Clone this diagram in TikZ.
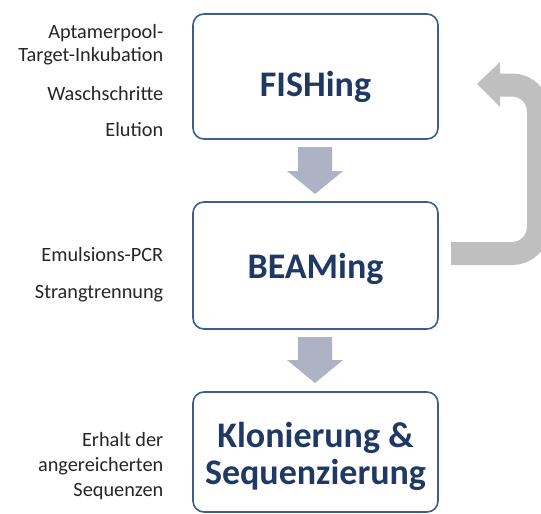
\documentclass[tikz,border=0pt]{standalone}
\usepackage{fontspec}
\setmainfont{Carlito}
\definecolor{boxline}{RGB}{58,95,143}
\definecolor{titlecol}{RGB}{31,56,100}
\definecolor{downarr}{RGB}{173,179,196}
\definecolor{backarr}{RGB}{191,191,191}
\definecolor{sidetext}{RGB}{38,38,38}
\tikzset{
  stepbox/.style={draw=boxline, line width=1.6pt, rounded corners=11pt, fill=white},
  title/.style={font=\fontsize{36}{38}\selectfont\bfseries, text=titlecol, anchor=base, inner sep=0pt},
  side/.style={font=\fontsize{20.3}{24}\selectfont, text=sidetext, anchor=base east, inner sep=0pt},
  downarrow/.style={fill=downarr, draw=none},
}
\begin{document}
\begin{tikzpicture}[x=1pt,y=-1pt]
\useasboundingbox (0,0) rectangle (541,514);
\clip (0,0) rectangle (541,514);
% boxes
\draw[stepbox] (193,14) rectangle (438,139);
\draw[stepbox] (193,202) rectangle (438,329);
\draw[stepbox] (193,392) rectangle (438,512);
\coordinate (fb) at (315.5,139);
\coordinate (bt) at (315.5,202);
\coordinate (bb) at (315.5,329);
\coordinate (kt) at (315.5,392);
% titles
\node[title] (fish) at (315.5,96) {FISHing};
\node[title] (beam) at (315.5,278) {BEAMing};
\node[title] (klon1) at (315.5,447) {Klonierung \&};
\node[title] (klon2) at (315.5,484) {Sequenzierung};
% down arrows
\fill[downarrow] (298,147) -- (332,147) -- (332,171) -- (343,171) -- (315,194) -- (287,171) -- (298,171) -- cycle;
\fill[downarrow] (298,337) -- (332,337) -- (332,360) -- (343,360) -- (315,383) -- (287,360) -- (298,360) -- cycle;
% return arrow
\coordinate (rs) at (451,253.5);
\coordinate (rc1) at (538.5,253.5);
\coordinate (rc2) at (538.5,85);
\coordinate (re) at (499.5,85);
\draw[backarr, line width=23pt, rounded corners=26.5pt] (rs) -- (rc1) -- (rc2) -- (re);
\fill[backarr] (500,62) -- (477,84) -- (500,107) -- cycle;
% side texts
\node[side] (t1) at (163.5,38.3) {Aptamerpool-};
\node[side] (t2) at (163.5,61.7) {Target-Inkubation};
\node[side] (t3) at (163.5,100) {Waschschritte};
\node[side] (t4) at (163.5,136.7) {Elution};
\node[side] (t5) at (163.5,261.7) {Emulsions-PCR};
\node[side] (t6) at (163.5,298) {Strangtrennung};
\node[side] (t7) at (163.5,446) {Erhalt der};
\node[side] (t8) at (163.5,471) {angereicherten};
\node[side] (t9) at (163.5,496.5) {Sequenzen};
\end{tikzpicture}
\end{document}
